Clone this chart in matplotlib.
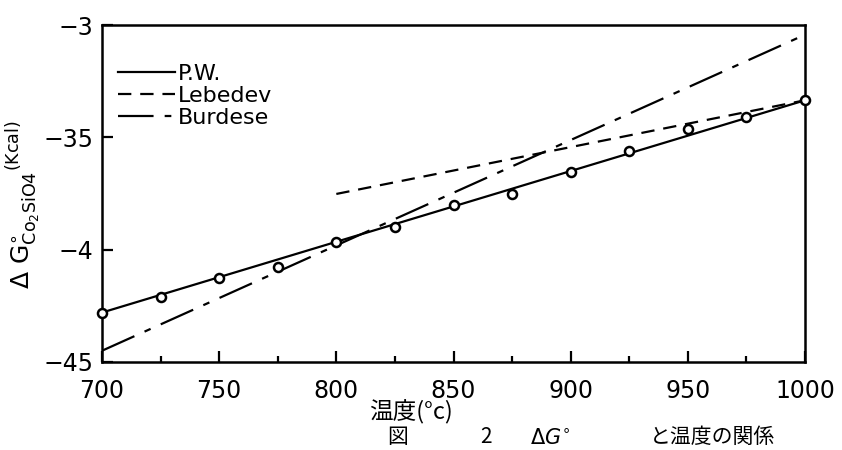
import numpy as np
import matplotlib
matplotlib.use('Agg')
import matplotlib.pyplot as plt
from matplotlib.ticker import MultipleLocator

# P.W. measured points (temperature degC, dG kcal)
pw_t = [700, 725, 750, 775, 800, 825, 850, 875, 900, 925, 950, 975, 1000]
pw_g = [-4.284, -4.209, -4.128, -4.076, -3.967, -3.900, -3.800, -3.751,
        -3.654, -3.561, -3.463, -3.410, -3.336]

# fitted / literature lines (end points)
pw_fit_t = [700, 1000]
pw_fit_g = [-4.28, -3.335]
lebedev_t = [800, 1000]
lebedev_g = [-3.752, -3.335]
burdese_t = [700, 1000]
burdese_g = [-4.45, -3.043]

x_ticks = [700, 750, 800, 850, 900, 950, 1000]
y_ticks = [-3.0, -3.5, -4.0, -4.5]
y_ticklabels = ['\u22123', '\u221235', '\u22124', '\u221245']

cjk = ['Noto Sans CJK JP', 'DejaVu Sans']

fig = plt.figure(figsize=(8.42, 4.5), dpi=100)
ax = fig.add_axes([0.1211, 0.1956, 0.835, 0.7488])

ln_pw, = ax.plot(pw_fit_t, pw_fit_g, color='black', lw=1.6, label='P.W.')
ln_leb, = ax.plot(lebedev_t, lebedev_g, color='black', lw=1.6,
                  dashes=(6, 4), label='Lebedev')
ln_bur, = ax.plot(burdese_t, burdese_g, color='black', lw=1.6,
                  dashes=(16, 5, 3, 5), label='Burdese')
ax.plot(pw_t, pw_g, linestyle='none', marker='o', markersize=6.5,
        markerfacecolor='white', markeredgecolor='black', markeredgewidth=1.8,
        zorder=5, clip_on=False)

ax.set_xlim(700, 1000)
ax.set_ylim(-4.5, -3.0)
ax.set_xticks(x_ticks)
ax.xaxis.set_minor_locator(MultipleLocator(25))
ax.set_yticks(y_ticks)
ax.set_yticklabels(y_ticklabels)
ax.tick_params(axis='x', which='major', direction='in', length=8, width=1.6,
               labelsize=17, top=False, pad=12)
ax.tick_params(axis='y', which='major', direction='in', length=8, width=1.6,
               labelsize=17, right=False, pad=6)
ax.tick_params(axis='x', which='minor', direction='in', length=4, width=1.6,
               top=False)
for sp in ax.spines.values():
    sp.set_linewidth(1.8)

# y label drawn as figure text so it stays inside the canvas
fig.text(0.006, 0.545,
         r'$\Delta\ \mathrm{G}^{\circ}_{\mathrm{Co_2SiO4}}{}^{(\mathrm{Kcal})}$',
         fontsize=18, rotation=90, ha='left', va='center')

leg = ax.legend(handles=[ln_pw, ln_leb, ln_bur], loc='upper left',
                bbox_to_anchor=(0.0, 0.93), frameon=False, fontsize=16,
                handlelength=2.6, handletextpad=0.1, labelspacing=0.08,
                borderaxespad=0.3)

fig.text(0.488, 0.085, '温度(°c)', fontsize=17, family=cjk, ha='center',
         va='center')
fig.text(0.46, 0.004, '図', fontsize=15, family=cjk, ha='left', va='bottom')
fig.text(0.57, 0.004, '2', fontsize=15, family=cjk, ha='left', va='bottom')
fig.text(0.63, 0.004, r'$\Delta G^{\circ}$', fontsize=15, ha='left', va='bottom')
fig.text(0.772, 0.004, 'と温度の関係', fontsize=15, family=cjk, ha='left',
         va='bottom')

fig.savefig('out.png', dpi=100)
